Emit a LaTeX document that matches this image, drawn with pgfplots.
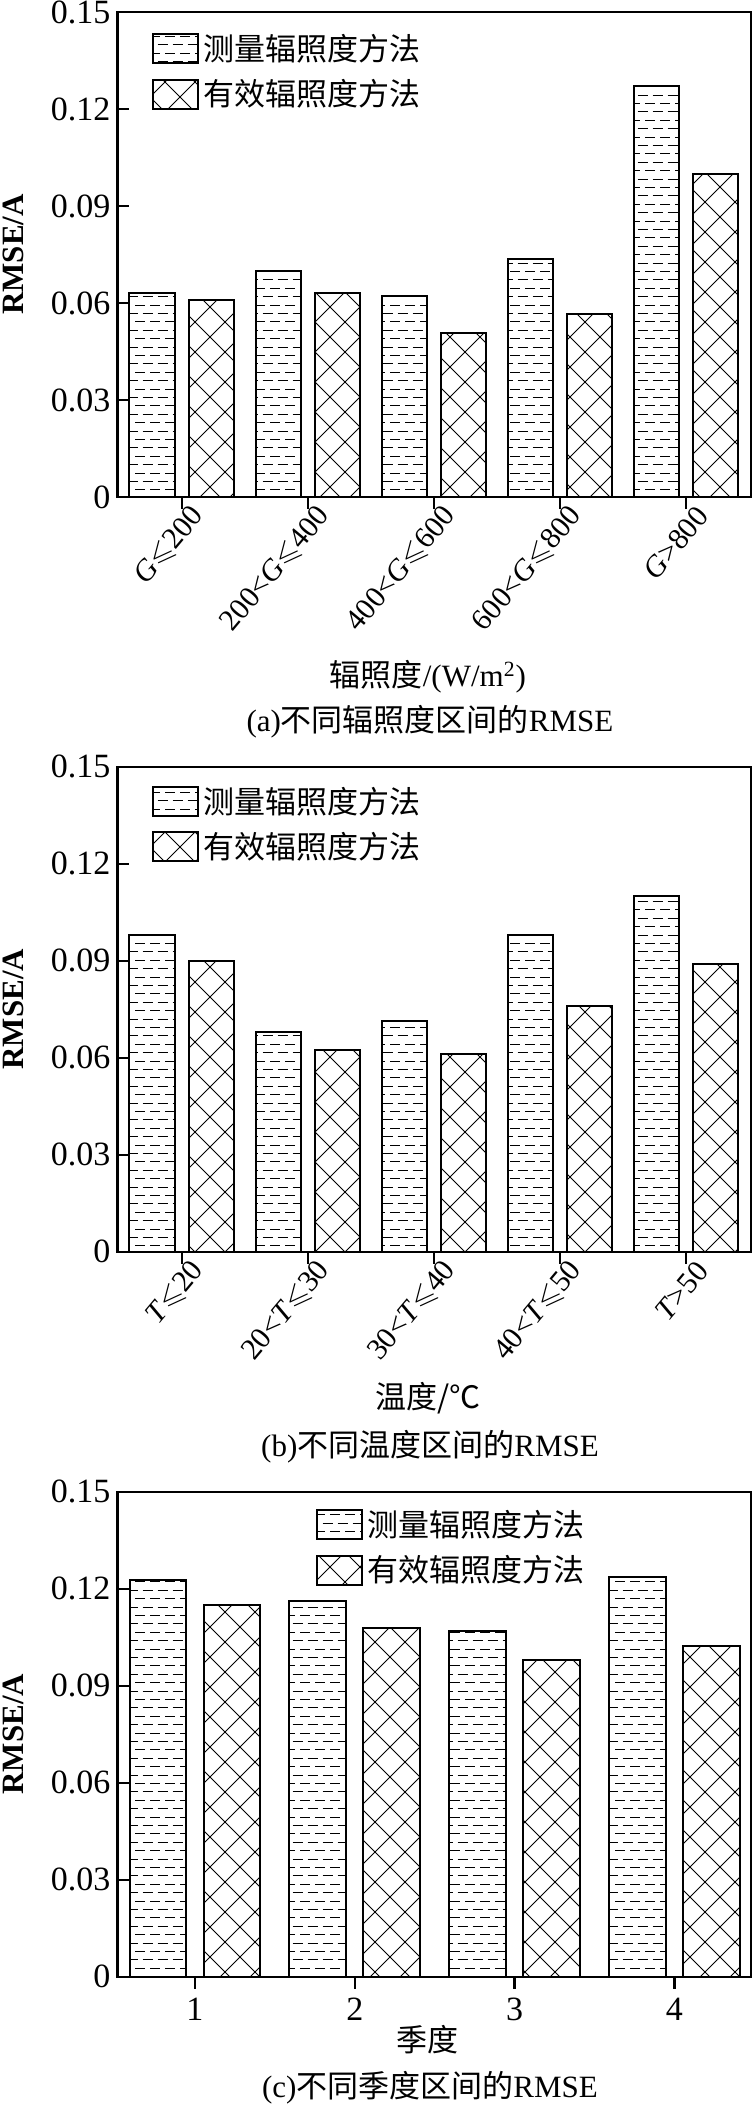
\documentclass[border=0pt]{standalone}
\usepackage{pgfplots}
\pgfplotsset{compat=1.18}
\usepackage{amssymb}
\usepackage{fontspec}
\setmainfont{Liberation Serif}
\newfontfamily\cjk{Noto Sans CJK SC}
\usetikzlibrary{patterns}

\pgfdeclarepatternformonly{hdash}{\pgfqpoint{-0.5pt}{-0.5pt}}{\pgfqpoint{8pt}{8.9pt}}{\pgfqpoint{7.5pt}{8.4pt}}{%
 \pgfsetlinewidth{0.5pt}%
 \pgfpathmoveto{\pgfqpoint{0pt}{2.1pt}}\pgfpathlineto{\pgfqpoint{5pt}{2.1pt}}%
 \pgfpathmoveto{\pgfqpoint{3.75pt}{6.3pt}}\pgfpathlineto{\pgfqpoint{7.5pt}{6.3pt}}%
 \pgfpathmoveto{\pgfqpoint{0pt}{6.3pt}}\pgfpathlineto{\pgfqpoint{1.25pt}{6.3pt}}%
 \pgfusepath{stroke}}
\pgfdeclarepatternformonly{xcross}{\pgfqpoint{-1pt}{-1pt}}{\pgfqpoint{16pt}{16pt}}{\pgfqpoint{15pt}{15pt}}{%
 \pgfsetlinewidth{0.45pt}%
 \pgfpathmoveto{\pgfqpoint{0pt}{0pt}}\pgfpathlineto{\pgfqpoint{15pt}{15pt}}%
 \pgfpathmoveto{\pgfqpoint{0pt}{15pt}}\pgfpathlineto{\pgfqpoint{15pt}{0pt}}%
 \pgfusepath{stroke}}

\pgfplotsset{
 rmse/.style={
  scale only axis, width=316.75pt, height=242.5pt,
  ymin=0, ymax=0.15,
  ytick={0,0.03,0.06,0.09,0.12,0.15},
  yticklabels={0,0.03,0.06,0.09,0.12,0.15},
  axis line style={line width=1.2pt},
  every tick/.style={black, line width=1.2pt},
  major tick length=6pt,
  tick align=inside,
  xtick pos=bottom, ytick pos=left,
  ybar, bar width=0.36,
  tick label style={font=\fontsize{17}{19}\selectfont},
  ylabel={RMSE/A},
  ylabel style={font=\bfseries\fontsize{15.5}{17}\selectfont, at={(axis description cs:-0.165,0.5)}, anchor=center},
  legend cell align=left,
  legend style={draw=none, fill=none, inner xsep=0pt, inner ysep=0pt, row sep=4pt,
    font=\cjk\fontsize{15.5}{18}\selectfont, anchor=north west},
 },
 rotlab/.style={x tick label style={rotate=50, anchor=east, xshift=8pt, yshift=-7pt, font=\fontsize{15}{17}\selectfont}},
 meas/.style={draw=black, line width=1pt, pattern=hdash,
   legend image code/.code={\draw[draw=black, line width=1pt, pattern=hdash] (0pt,-7.25pt) rectangle (22.5pt,7.25pt);}},
 effe/.style={draw=black, line width=1pt, pattern=xcross,
   legend image code/.code={\draw[draw=black, line width=1pt, pattern=xcross] (0pt,-7.25pt) rectangle (22.5pt,7.25pt);}},
}

\begin{document}
\begin{tikzpicture}
\path[use as bounding box] (0,0) rectangle (376.5pt,-1053.5pt);

% (a)
\begin{axis}[rmse, rotlab, at={(58.75pt,-248.5pt)}, anchor=south west,
  xmin=-0.51, xmax=4.515, xtick={0,1,2,3,4},
  xticklabels={{\textit{G}$\leqslant$200},{200<\textit{G}$\leqslant$400},{400<\textit{G}$\leqslant$600},{600<\textit{G}$\leqslant$800},{\textit{G}>800}},
  xlabel={{\cjk 辐照度}/(W/m\textsuperscript{2})},
  xlabel style={font=\fontsize{15.5}{17}\selectfont, at={(axis description cs:0.49,-0.371)}, anchor=center},
  legend style={at={(axis description cs:0.0545,0.963)}},
]
\addplot[meas, bar shift=-0.235] coordinates {(0,0.0630) (1,0.0699) (2,0.0622) (3,0.0737) (4,0.1270)};
\addplot[effe, bar shift=0.235] coordinates {(0,0.0608) (1,0.0631) (2,0.0507) (3,0.0566) (4,0.0999)};
\legend{测量辐照度方法,有效辐照度方法}
\end{axis}
\node[font=\fontsize{15.5}{18}\selectfont] at (215pt,-361pt) {(a){\cjk 不同辐照度区间的}RMSE};

% (b)
\begin{axis}[rmse, rotlab, at={(58.75pt,-625.85pt)}, anchor=south west,
  xmin=-0.51, xmax=4.515, xtick={0,1,2,3,4},
  xticklabels={{\textit{T}$\leqslant$20},{20<\textit{T}$\leqslant$30},{30<\textit{T}$\leqslant$40},{40<\textit{T}$\leqslant$50},{\textit{T}>50}},
  xlabel={{\cjk 温度/℃}},
  xlabel style={font=\fontsize{15.5}{17}\selectfont, at={(axis description cs:0.49,-0.301)}, anchor=center},
  legend style={at={(axis description cs:0.0545,0.967)}},
]
\addplot[meas, bar shift=-0.235] coordinates {(0,0.0980) (1,0.0680) (2,0.0715) (3,0.0980) (4,0.1100)};
\addplot[effe, bar shift=0.235] coordinates {(0,0.0900) (1,0.0625) (2,0.0613) (3,0.0760) (4,0.0890)};
\legend{测量辐照度方法,有效辐照度方法}
\end{axis}
\node[font=\fontsize{15.5}{18}\selectfont] at (215pt,-723.5pt) {(b){\cjk 不同温度区间的}RMSE};

% (c)
\begin{axis}[rmse, at={(58.75pt,-988.35pt)}, anchor=south west,
  xmin=0.515, xmax=4.48, xtick={1,2,3,4},
  xticklabels={1,2,3,4},
  bar width=0.355,
  x tick label style={yshift=-1pt},
  xlabel={\cjk 季度},
  xlabel style={font=\fontsize{15.5}{17}\selectfont, at={(axis description cs:0.49,-0.13)}, anchor=center},
  legend style={at={(axis description cs:0.313,0.971)}},
]
\addplot[meas, bar shift=-0.232] coordinates {(1,0.1227) (2,0.1161) (3,0.1068) (4,0.1235)};
\addplot[effe, bar shift=0.232] coordinates {(1,0.1151) (2,0.1077) (3,0.0981) (4,0.1024)};
\legend{测量辐照度方法,有效辐照度方法}
\end{axis}
\node[font=\fontsize{15.5}{18}\selectfont] at (215pt,-1044pt) {(c){\cjk 不同季度区间的}RMSE};
\end{tikzpicture}
\end{document}
